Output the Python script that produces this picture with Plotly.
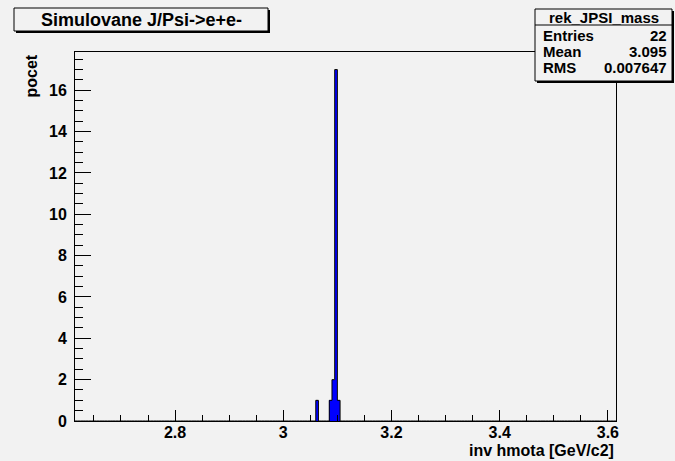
import plotly.graph_objects as go

# ---- data (histogram definition and contents) ----
bin_lo = 2.615
bin_w = 0.005
n_bins = 200
hist_x_centers = [3.0625, 3.0875, 3.0925, 3.0975, 3.1025]
hist_counts = [1, 1, 2, 17, 1]

title_text = "Simulovane J/Psi->e+e-"
x_title = "inv hmota [GeV/c2]"
y_title = "pocet"
stats_name = "rek_JPSI_mass"
stats_labels = ["Entries", "Mean", "RMS"]
stats_values = ["22", "3.095", "0.007647"]
x_range = [2.615, 3.615]
y_range = [0, 17.85]

# ---- layout geometry (pixels) ----
W, H = 675, 461
L, R, T, B = 75, 616, 52, 421
BG = "rgb(242,242,242)"
FONT = "Liberation Sans, Arial, Helvetica, sans-serif"


def px(x):
    return (x - L) / (R - L)


def py(y):
    return (B - y) / (B - T)


# full bin contents for the step outline
counts_full = [0] * n_bins
for c, v in zip(hist_x_centers, hist_counts):
    idx = int(round((c - bin_lo) / bin_w - 0.5))
    counts_full[idx] = v
edges = [bin_lo + i * bin_w for i in range(n_bins + 1)]
outline_y = counts_full + [counts_full[-1]]

fig = go.Figure()
fig.add_trace(go.Bar(
    x=hist_x_centers, y=hist_counts, width=[bin_w] * len(hist_counts),
    marker=dict(color="#0000ff", line=dict(width=0)),
    hoverinfo="skip", showlegend=False,
))
fig.add_trace(go.Scatter(
    x=edges, y=outline_y, mode="lines", line=dict(shape="hv", color="black", width=1),
    hoverinfo="skip", showlegend=False,
))

tickfont = dict(family=FONT, size=16, color="black", weight="bold")
fig.update_layout(
    width=W, height=H,
    margin=dict(l=L, r=W - R, t=T, b=H - B, pad=0),
    paper_bgcolor=BG, plot_bgcolor=BG,
    bargap=0,
    xaxis=dict(
        range=x_range, showgrid=False, zeroline=False,
        showline=True, mirror=True, linecolor="black", linewidth=1,
        ticks="inside", ticklen=11, tickcolor="black", tickwidth=1,
        tick0=0, dtick=0.2, tickfont=tickfont, ticklabelstandoff=-3,
        minor=dict(ticks="inside", ticklen=6, tickcolor="black", tick0=0, dtick=0.05),
    ),
    yaxis=dict(
        range=y_range, showgrid=False, zeroline=False,
        showline=True, mirror=True, linecolor="black", linewidth=1,
        ticks="inside", ticklen=16, tickcolor="black", tickwidth=1,
        tick0=0, dtick=2, tickfont=tickfont, ticklabelstandoff=4,
        minor=dict(ticks="inside", ticklen=8, tickcolor="black", tick0=0, dtick=0.5),
    ),
)

shapes = []
# title box with shadow
shapes.append(dict(type="rect", xref="paper", yref="paper",
                   x0=px(16), x1=px(270), y0=py(33), y1=py(10),
                   fillcolor="black", line=dict(width=0)))
shapes.append(dict(type="rect", xref="paper", yref="paper",
                   x0=px(14), x1=px(268), y0=py(31), y1=py(8),
                   fillcolor=BG, line=dict(color="black", width=1)))
# stats box with shadow
shapes.append(dict(type="rect", xref="paper", yref="paper",
                   x0=px(537), x1=px(674), y0=py(83), y1=py(11),
                   fillcolor="black", line=dict(width=0)))
shapes.append(dict(type="rect", xref="paper", yref="paper",
                   x0=px(535), x1=px(672), y0=py(81), y1=py(9),
                   fillcolor=BG, line=dict(color="black", width=1)))
shapes.append(dict(type="line", xref="paper", yref="paper",
                   x0=px(535), x1=px(672), y0=py(25), y1=py(25),
                   line=dict(color="black", width=1)))
fig.update_layout(shapes=shapes)

ann = []
ann.append(dict(text=title_text, xref="paper", yref="paper", x=px(141), y=py(19.5),
                xanchor="center", yanchor="middle", showarrow=False,
                font=dict(family=FONT, size=18, color="black", weight="bold")))
ann.append(dict(text=stats_name, xref="paper", yref="paper", x=px(603.5), y=py(17),
                xanchor="center", yanchor="middle", showarrow=False,
                font=dict(family=FONT, size=15, color="black", weight="bold")))
row_y = [35, 51, 67]
for lab, val, yy in zip(stats_labels, stats_values, row_y):
    ann.append(dict(text=lab, xref="paper", yref="paper", x=px(541), y=py(yy),
                    xanchor="left", yanchor="middle", showarrow=False,
                    font=dict(family=FONT, size=15, color="black", weight="bold")))
    ann.append(dict(text=val, xref="paper", yref="paper", x=px(669), y=py(yy),
                    xanchor="right", yanchor="middle", showarrow=False,
                    font=dict(family=FONT, size=15, color="black", weight="bold")))
ann.append(dict(text=x_title, xref="paper", yref="paper", x=px(616), y=py(450),
                xanchor="right", yanchor="middle", showarrow=False,
                font=dict(family=FONT, size=16, color="black", weight="bold")))
ann.append(dict(text=y_title, xref="paper", yref="paper", x=px(31), y=py(53),
                xanchor="center", yanchor="top", textangle=-90, showarrow=False,
                font=dict(family=FONT, size=16, color="black", weight="bold")))
fig.update_layout(annotations=ann)

fig.write_html(
    "out.html",
    config={"displayModeBar": False},
    post_script="document.body.style.margin='0';document.body.style.padding='0';"
                "document.body.style.overflow='hidden';",
)
